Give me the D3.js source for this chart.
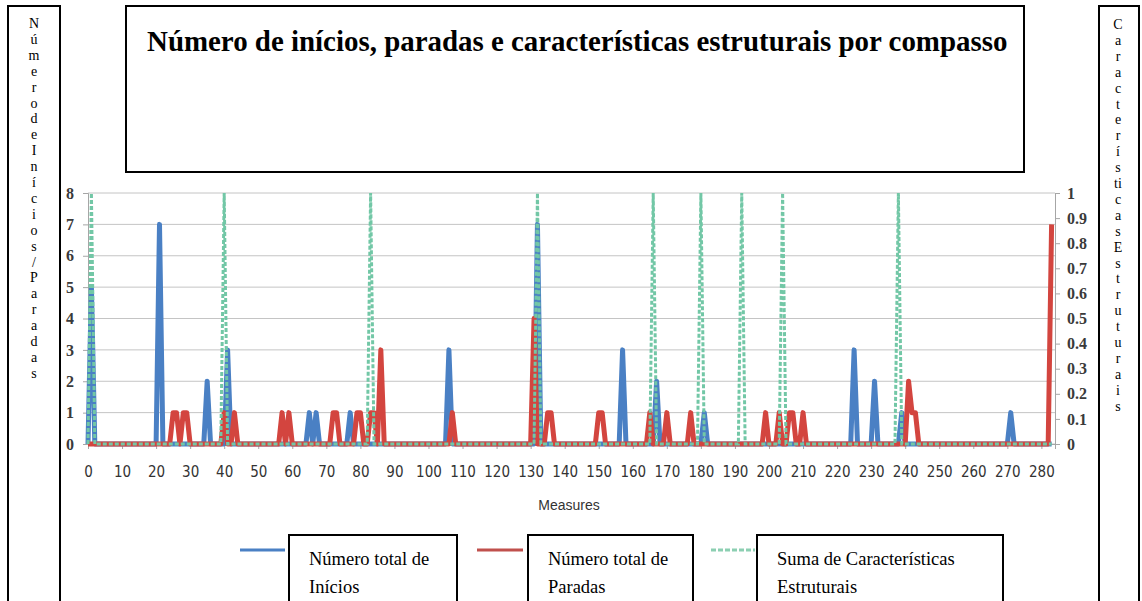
<!DOCTYPE html>
<html>
<head>
<meta charset="utf-8">
<script src="https://cdn.jsdelivr.net/npm/d3@7"></script>
<style>
  body { margin: 0; background: #fff; }
  svg { display: block; }
</style>
</head>
<body>
<svg width="1142" height="601"></svg>
<script>
// measures with a non-zero value (everything else is 0)
var inicioMeasures = [1, 21, 35, 41, 65, 67, 77, 106, 132, 157, 167, 181, 225, 231, 239, 271];
var inicioValues   = [5, 7, 2, 3, 1, 1, 1, 3, 7, 3, 2, 1, 3, 2, 1, 1];
var paradaMeasures = [25, 26, 28, 29, 40, 43, 57, 59, 72, 73, 79, 80, 83, 84, 86, 107, 131, 135, 136,
                      150, 151, 165, 170, 177, 199, 203, 206, 207, 210, 241, 242, 243, 283];
var paradaValues   = [1, 1, 1, 1, 1, 1, 1, 1, 1, 1, 1, 1, 1, 1, 3, 1, 4, 1, 1,
                      1, 1, 1, 1, 1, 1, 1, 1, 1, 1, 2, 1, 1, 7];
var estruturaMeasures = [1, 40, 83, 132, 166, 180, 192, 204, 238];
var estruturaValues   = [1, 1, 1, 1, 1, 1, 1, 1, 1];
var lastMeasure = 283;

var xTicks = d3.range(0, 281, 10);
var leftTicks = d3.range(0, 9);
var rightTicks = d3.range(0, 11).map(function(d) { return d / 10; });

var titleText = "Número de inícios, paradas e características estruturais por compasso";
var leftLetters = ["N","ú","m","e","r","o","d","e","I","n","í","c","i","o","s","/","P","a","r","a","d","a","s"];
var rightLetters = ["C","a","r","a","c","t","e","r","í","s","ti","c","a","s","E","s","t","r","u","t","u","r","a","i","s"];
var legendLines = [["Número total de", "Inícios"], ["Número total de", "Paradas"], ["Suma de Características", "Estruturais"]];

var svg = d3.select("svg");

// build full series 0..lastMeasure
function series(ms, vs) {
  var m = new Map(ms.map(function(d, i) { return [d, vs[i]]; }));
  return d3.range(0, lastMeasure + 1).map(function(d) { return { m: d, v: m.get(d) || 0 }; });
}
var inicios = series(inicioMeasures, inicioValues);
var paradas = series(paradaMeasures, paradaValues);
var estrutura = series(estruturaMeasures, estruturaValues);

var x = d3.scaleLinear().domain([0, 284]).range([88, 1055]);
var yL = d3.scaleLinear().domain([0, 8]).range([444, 193]);
var yR = d3.scaleLinear().domain([0, 1]).range([444, 193]);

// gridlines
svg.append("g").selectAll("line").data(leftTicks).enter().append("line")
  .attr("x1", 88).attr("x2", 1055)
  .attr("y1", function(d) { return yL(d); }).attr("y2", function(d) { return yL(d); })
  .attr("stroke", "#c4c4c4").attr("stroke-width", 1);

// axes
var axL = svg.append("g").attr("transform", "translate(88,0)")
  .call(d3.axisLeft(yL).tickValues(leftTicks).tickSize(5).tickPadding(9));
var axR = svg.append("g").attr("transform", "translate(1055,0)")
  .call(d3.axisRight(yR).tickValues(rightTicks).tickSize(5).tickPadding(7).tickFormat(d3.format("")));
var axB = svg.append("g").attr("transform", "translate(0,444)")
  .call(d3.axisBottom(x).tickValues(xTicks).tickSize(5).tickPadding(17));

[axL, axR, axB].forEach(function(a) {
  a.selectAll("path, line").attr("stroke", "#a6a6a6");
});
[axL, axR].forEach(function(a) {
  a.selectAll("text").attr("font-family", "Liberation Serif, serif").attr("font-weight", "bold")
    .attr("font-size", 16).attr("fill", "#3a3a3a");
});
axB.selectAll("text").attr("font-family", "Liberation Sans Narrow, DejaVu Sans Condensed, sans-serif")
  .attr("font-size", 15).attr("fill", "#333");

svg.append("text").attr("x", 569).attr("y", 510).attr("text-anchor", "middle")
  .attr("font-family", "Liberation Sans, sans-serif").attr("font-size", 14).attr("fill", "#333")
  .text("Measures");

// series
var lineL = d3.line().x(function(d) { return x(d.m); }).y(function(d) { return yL(d.v); });
var lineR = d3.line().x(function(d) { return x(d.m); }).y(function(d) { return yR(d.v); });

svg.append("path").datum(inicios).attr("d", lineL)
  .attr("fill", "none").attr("stroke", "#4a80c4").attr("stroke-width", 5).attr("stroke-linejoin", "round");
svg.append("path").datum(paradas).attr("d", lineL)
  .attr("fill", "none").attr("stroke", "#d3453f").attr("stroke-width", 5).attr("stroke-linejoin", "round");
svg.append("path").datum(estrutura).attr("d", lineR)
  .attr("fill", "none").attr("stroke", "#72c7a6").attr("stroke-width", 3).attr("stroke-dasharray", "4,2");

// title box
svg.append("rect").attr("x", 126).attr("y", 6).attr("width", 898).attr("height", 166)
  .attr("fill", "#fff").attr("stroke", "#000").attr("stroke-width", 2);
var title = svg.append("text").attr("x", 147).attr("y", 51)
  .attr("font-family", "Liberation Serif, serif").attr("font-weight", "bold").attr("font-size", 24)
  .attr("fill", "#000").text(titleText);
var tl = title.node().getComputedTextLength();
title.attr("font-size", 24 * 861 / tl);

// side boxes with stacked letters
svg.append("rect").attr("x", 8).attr("y", 6).attr("width", 52).attr("height", 620)
  .attr("fill", "none").attr("stroke", "#000").attr("stroke-width", 2);
svg.append("rect").attr("x", 1099).attr("y", 6).attr("width", 40).attr("height", 620)
  .attr("fill", "none").attr("stroke", "#000").attr("stroke-width", 2);

svg.append("g").selectAll("text").data(leftLetters).enter().append("text")
  .attr("x", 34).attr("y", function(d, i) { return 28 + i * 15.9; })
  .attr("text-anchor", "middle").attr("font-family", "Liberation Serif, serif").attr("font-size", 14)
  .text(function(d) { return d; });
svg.append("g").selectAll("text").data(rightLetters).enter().append("text")
  .attr("x", 1118).attr("y", function(d, i) { return 29 + i * 15.9; })
  .attr("text-anchor", "middle").attr("font-family", "Liberation Serif, serif").attr("font-size", 14)
  .text(function(d) { return d; });

// legend
var legendSamples = [
  { x1: 240, x2: 285, color: "#4a80c4", dash: null, w: 3, box: [289, 457] },
  { x1: 477, x2: 523, color: "#c0504d", dash: null, w: 3, box: [528, 693] },
  { x1: 711, x2: 755, color: "#8ccfb2", dash: "5,2", w: 3, box: [757, 1003] }
];
var lg = svg.append("g").selectAll("g").data(legendSamples).enter().append("g");
lg.append("line").attr("x1", function(d) { return d.x1; }).attr("x2", function(d) { return d.x2; })
  .attr("y1", 550).attr("y2", 550).attr("stroke", function(d) { return d.color; })
  .attr("stroke-width", function(d) { return d.w; }).attr("stroke-dasharray", function(d) { return d.dash; });
lg.append("rect").attr("x", function(d) { return d.box[0]; }).attr("y", 535)
  .attr("width", function(d) { return d.box[1] - d.box[0]; }).attr("height", 100)
  .attr("fill", "#fff").attr("stroke", "#000").attr("stroke-width", 2);
lg.each(function(d, i) {
  var t = d3.select(this).append("text").attr("font-family", "Liberation Serif, serif")
    .attr("font-size", 18.5).attr("fill", "#000");
  legendLines[i].forEach(function(s, j) {
    t.append("tspan").attr("x", d.box[0] + 20).attr("y", 565 + j * 28).text(s);
  });
});
</script>
</body>
</html>
